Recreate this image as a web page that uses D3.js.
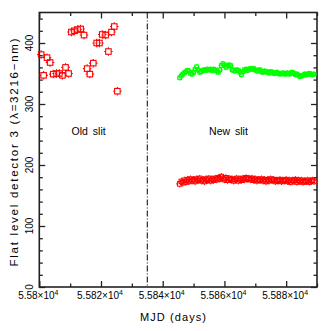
<!DOCTYPE html>
<html><head><meta charset="utf-8">
<script src="https://cdn.jsdelivr.net/npm/d3@7"></script>
<style>body{margin:0;background:#fff}svg{display:block}text{font-family:"Liberation Sans",Arial,sans-serif;fill:#000}</style>
</head><body>
<script>
// ---- data ----
const oldMjd = [55800.6,55801.4,55802.5,55803.5,55804.5,55805.6,55806.5,55807.5,55808.5,55809.5,55810.4,55811.4,55812.4,55813.4,55814.5,55815.5,55816.4,55817.5,55818.6,55819.5,55820.4,55821.5,55822.4,55823.4,55824.3,55825.3];
const oldFlat = [381,347,376,368,349,350,350,347,360,350,418,420,422,423,413,358,349,367,400,400,414,413,386,418,427,321];
const newMjd = [55845.5,55846.0,55846.5,55847.0,55847.5,55848.0,55848.5,55849.0,55849.5,55850.0,55850.5,55851.0,55851.5,55852.0,55852.5,55853.0,55853.5,55854.0,55854.5,55855.0,55855.5,55856.0,55856.5,55857.0,55857.5,55858.0,55858.5,55859.0,55859.5,55860.0,55860.5,55861.0,55861.5,55862.0,55862.5,55863.0,55863.5,55864.0,55864.5,55865.0,55865.5,55866.0,55866.5,55867.0,55867.5,55868.0,55868.5,55869.0,55869.5,55870.0,55870.5,55871.0,55871.5,55872.0,55872.5,55873.0,55873.5,55874.0,55874.5,55875.0,55875.5,55876.0,55876.5,55877.0,55877.5,55878.0,55878.5,55879.0,55879.5,55880.0,55880.5,55881.0,55881.5,55882.0,55882.5,55883.0,55883.5,55884.0,55884.5,55885.0,55885.5,55886.0,55886.5,55887.0,55887.5,55888.0,55888.5,55889.0];
const newGreen = [343,346,349,351,353,355,354,350,349,352,357,361,356,352,353,355,356,355,357,356,357,355,357,356,354,352,356,363,366,364,360,362,364,363,356,355,354,356,355,352,348,353,356,357,355,357,358,357,358,356,354,355,356,353,352,354,353,352,351,353,352,350,351,352,350,349,350,351,349,350,351,349,350,352,350,348,349,347,345,346,347,349,348,349,350,349,348,349];
const newRed = [169,173,171,175,172,176,173,177,174,176,173,177,175,178,174,176,173,177,175,178,174,177,175,178,176,179,177,181,178,176,179,175,178,176,177,174,176,178,174,177,175,178,176,179,177,178,176,178,175,177,174,176,175,177,174,176,173,176,174,177,175,176,173,175,174,176,173,175,174,176,173,175,172,175,174,176,172,175,173,175,172,174,173,175,172,174,175,173];
const slitChange = 55835;
const xMajor = [55800,55820,55840,55860,55880];
const xMinor = [55810,55830,55850,55870,55890];
const xMajorLabels = ["5.58","5.582","5.584","5.586","5.588"];
const yMajor = [0,100,200,300,400];
const yMinor = [20,40,60,80,120,140,160,180,220,240,260,280,320,340,360,380,420,440];
const regionLabels = [{t:"Old slit",x:55816},{t:"New slit",x:55861.3}];
const regionLabelY = 250;

// ---- layout ----
const W=328,H=331, L=39.3, R=317, T=12.5, B=287;
const x = d3.scaleLinear().domain([55800,55890]).range([L,R]);
const y = d3.scaleLinear().domain([0,450]).range([B,T]);
const svg = d3.select("body").append("svg").attr("width",W).attr("height",H);
svg.append("rect").attr("width",W).attr("height",H).attr("fill","#fff");

const frameCol="#222";
function tickAxis(axisFn, sc, vals, size, tr){
  const g = svg.append("g").attr("transform",tr)
    .call(axisFn(sc).tickValues(vals).tickSize(size).tickFormat(""));
  g.select(".domain").remove();
  g.selectAll("line").attr("stroke",frameCol).attr("stroke-width",1.3);
}
tickAxis(d3.axisBottom,x,xMajor,-6,`translate(0,${B})`);
tickAxis(d3.axisBottom,x,xMinor,-3.5,`translate(0,${B})`);
tickAxis(d3.axisTop,x,xMajor,-6,`translate(0,${T})`);
tickAxis(d3.axisTop,x,xMinor,-3.5,`translate(0,${T})`);
tickAxis(d3.axisLeft,y,yMajor,-6,`translate(${L},0)`);
tickAxis(d3.axisLeft,y,yMinor,-3.5,`translate(${L},0)`);
tickAxis(d3.axisRight,y,yMajor,-6,`translate(${R},0)`);
tickAxis(d3.axisRight,y,yMinor,-3.5,`translate(${R},0)`);

svg.append("rect").attr("x",L).attr("y",T).attr("width",R-L).attr("height",B-T)
  .attr("fill","none").attr("stroke",frameCol).attr("stroke-width",1.6);

// x tick labels
const xl = svg.append("g").selectAll("text").data(xMajor).join("text")
  .attr("x",d=>x(d)-1).attr("y",B+11.5).attr("text-anchor","middle").attr("font-size",10);
xl.append("tspan").text((d,i)=>xMajorLabels[i]+"×10");
xl.append("tspan").attr("dy",-4).attr("font-size",7).text("4");

// y tick labels (rotated)
svg.append("g").selectAll("text").data(yMajor).join("text")
  .attr("transform",d=>`translate(${L-6},${y(d)}) rotate(-90)`)
  .attr("text-anchor","middle").attr("font-size",10).text(d=>d);

// axis titles
svg.append("text").attr("x",173).attr("y",321).attr("text-anchor","middle")
  .attr("font-size",11).attr("textLength",66).attr("lengthAdjust","spacing").text("MJD (days)");
svg.append("text").attr("transform",`translate(17.5,152.5) rotate(-90)`)
  .attr("text-anchor","middle").attr("font-size",11.5)
  .attr("textLength",228).attr("lengthAdjust","spacing")
  .text("Flat level detector 3  (λ=3216−nm)");

// region labels
svg.append("g").selectAll("text").data(regionLabels).join("text")
  .attr("x",d=>x(d.x)).attr("y",y(regionLabelY)).attr("text-anchor","middle")
  .attr("font-size",10.5).attr("word-spacing",2).text(d=>d.t);

// slit change line
svg.append("line").attr("x1",x(slitChange)).attr("x2",x(slitChange))
  .attr("y1",T).attr("y2",B).attr("stroke","#000").attr("stroke-width",1)
  .attr("stroke-dasharray","6,2,1,2");

// markers
function errSquares(xs, ys, col, s, e, sw){
  const g = svg.append("g").attr("stroke",col).attr("fill","none").attr("stroke-width",sw);
  xs.forEach((xv,i)=>{
    const cx=x(xv), cy=y(ys[i]);
    g.append("rect").attr("x",cx-s/2).attr("y",cy-s/2).attr("width",s).attr("height",s);
    if(e>0){
      g.append("line").attr("x1",cx).attr("x2",cx).attr("y1",cy-s/2-e).attr("y2",cy-s/2);
      g.append("line").attr("x1",cx).attr("x2",cx).attr("y1",cy+s/2).attr("y2",cy+s/2+e);
      g.append("line").attr("x1",cx-s/2-e).attr("x2",cx-s/2).attr("y1",cy).attr("y2",cy);
      g.append("line").attr("x1",cx+s/2).attr("x2",cx+s/2+e).attr("y1",cy).attr("y2",cy);
    }
  });
}
errSquares(oldMjd, oldFlat, "#ff0000", 5.5, 1.5, 1.1);
errSquares(newMjd, newRed, "#ff0000", 4.5, 1.3, 1);
errSquares(newMjd, newGreen, "#00ff00", 3.5, 1, 1.2);
</script>
</body></html>
